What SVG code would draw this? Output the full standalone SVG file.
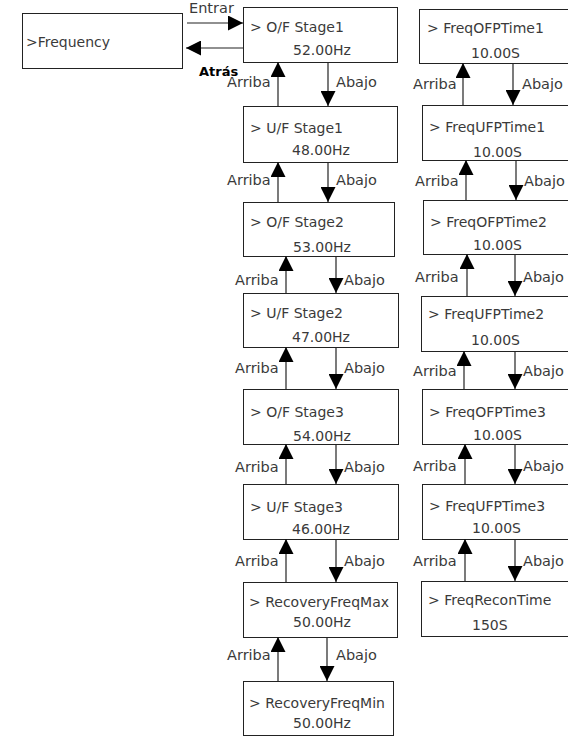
<svg xmlns="http://www.w3.org/2000/svg" width="568" height="736" viewBox="0 0 568 736">
  <defs>
    <style>
      .box { fill: #fff; stroke: #222; stroke-width: 1; }
      .ln { stroke: #222; stroke-width: 1.2; fill: none; }
      .hd { fill: #000; }
      text { font-family: "DejaVu Sans", "Noto Sans", sans-serif; font-size: 14px; fill: #3a3a3a; }
      .lbl { font-size: 14.5px; }
      .bold { font-weight: 700; font-size: 13px; fill: #000; }
    </style>
    <marker id="ah" viewBox="0 0 10 10" refX="10" refY="5" markerWidth="15" markerHeight="15" markerUnits="userSpaceOnUse" orient="auto">
      <path d="M0,0 L10,5 L0,10 Z" class="hd"/>
    </marker>
  </defs>

  <rect width="568" height="736" fill="#fff"/>

  <!-- menu entry -->
  <g id="frequency">
    <rect class="box" x="22.5" y="13.5" width="160" height="55"/>
    <text x="26" y="47">&gt;Frequency</text>
  </g>

  <!-- left column -->
  <g id="of-stage1">
    <rect class="box" x="243.5" y="7.5" width="154" height="55"/>
    <text x="250" y="32">&gt; O/F Stage1</text>
    <text x="293" y="55">52.00Hz</text>
  </g>
  <g id="uf-stage1">
    <rect class="box" x="243.5" y="106.5" width="154" height="56"/>
    <text x="250" y="133">&gt; U/F Stage1</text>
    <text x="292" y="155">48.00Hz</text>
  </g>
  <g id="of-stage2">
    <rect class="box" x="243.5" y="202.5" width="151" height="54"/>
    <text x="250" y="227">&gt; O/F Stage2</text>
    <text x="293" y="252">53.00Hz</text>
  </g>
  <g id="uf-stage2">
    <rect class="box" x="243.5" y="293.5" width="155" height="54"/>
    <text x="250" y="318">&gt; U/F Stage2</text>
    <text x="292" y="342">47.00Hz</text>
  </g>
  <g id="of-stage3">
    <rect class="box" x="243.5" y="389.5" width="155" height="55"/>
    <text x="250" y="417">&gt; O/F Stage3</text>
    <text x="293" y="441">54.00Hz</text>
  </g>
  <g id="uf-stage3">
    <rect class="box" x="243.5" y="484.5" width="155" height="55"/>
    <text x="250" y="512">&gt; U/F Stage3</text>
    <text x="292" y="534">46.00Hz</text>
  </g>
  <g id="recovery-max">
    <rect class="box" x="243.5" y="582.5" width="154" height="55"/>
    <text x="249" y="607">&gt; RecoveryFreqMax</text>
    <text x="293" y="627">50.00Hz</text>
  </g>
  <g id="recovery-min">
    <rect class="box" x="243.5" y="681.5" width="150" height="54"/>
    <text x="249" y="708">&gt; RecoveryFreqMin</text>
    <text x="293" y="728">50.00Hz</text>
  </g>

  <!-- right column -->
  <g id="ofp-time1">
    <rect class="box" x="419.5" y="9.5" width="160" height="54"/>
    <text x="427" y="33">&gt; FreqOFPTime1</text>
    <text x="471" y="58">10.00S</text>
  </g>
  <g id="ufp-time1">
    <rect class="box" x="422.5" y="105.5" width="160" height="55"/>
    <text x="429" y="132">&gt; FreqUFPTime1</text>
    <text x="473" y="157">10.00S</text>
  </g>
  <g id="ofp-time2">
    <rect class="box" x="423.5" y="200.5" width="160" height="54"/>
    <text x="430" y="227">&gt; FreqOFPTime2</text>
    <text x="473" y="250">10.00S</text>
  </g>
  <g id="ufp-time2">
    <rect class="box" x="421.5" y="296.5" width="160" height="55"/>
    <text x="428" y="319">&gt; FreqUFPTime2</text>
    <text x="471" y="345">10.00S</text>
  </g>
  <g id="ofp-time3">
    <rect class="box" x="422.5" y="389.5" width="160" height="55"/>
    <text x="429" y="417">&gt; FreqOFPTime3</text>
    <text x="473" y="440">10.00S</text>
  </g>
  <g id="ufp-time3">
    <rect class="box" x="422.5" y="484.5" width="160" height="55"/>
    <text x="429" y="511">&gt; FreqUFPTime3</text>
    <text x="472" y="533">10.00S</text>
  </g>
  <g id="recon-time">
    <rect class="box" x="421.5" y="581.5" width="160" height="55"/>
    <text x="428" y="605">&gt; FreqReconTime</text>
    <text x="472" y="630">150S</text>
  </g>

  <!-- connectors -->
  <g id="connectors">
    <!-- enter / back -->
    <line class="ln" x1="187" y1="23" x2="243" y2="23" marker-end="url(#ah)"/>
    <line class="ln" x1="243" y1="48" x2="186" y2="48" marker-end="url(#ah)"/>

    <!-- left column up / down -->
    <line class="ln" x1="278" y1="106" x2="278" y2="62" marker-end="url(#ah)"/>
    <line class="ln" x1="328" y1="62" x2="328" y2="106" marker-end="url(#ah)"/>
    <line class="ln" x1="278" y1="202" x2="278" y2="162" marker-end="url(#ah)"/>
    <line class="ln" x1="328" y1="162" x2="328" y2="202" marker-end="url(#ah)"/>
    <line class="ln" x1="286" y1="293" x2="286" y2="256" marker-end="url(#ah)"/>
    <line class="ln" x1="336" y1="256" x2="336" y2="293" marker-end="url(#ah)"/>
    <line class="ln" x1="286" y1="389" x2="286" y2="347" marker-end="url(#ah)"/>
    <line class="ln" x1="336" y1="347" x2="336" y2="389" marker-end="url(#ah)"/>
    <line class="ln" x1="286" y1="484" x2="286" y2="444" marker-end="url(#ah)"/>
    <line class="ln" x1="336" y1="444" x2="336" y2="484" marker-end="url(#ah)"/>
    <line class="ln" x1="286" y1="582" x2="286" y2="539" marker-end="url(#ah)"/>
    <line class="ln" x1="336" y1="539" x2="336" y2="582" marker-end="url(#ah)"/>
    <line class="ln" x1="278" y1="681" x2="278" y2="637" marker-end="url(#ah)"/>
    <line class="ln" x1="327" y1="637" x2="327" y2="681" marker-end="url(#ah)"/>

    <!-- right column up / down -->
    <line class="ln" x1="463" y1="105" x2="463" y2="63" marker-end="url(#ah)"/>
    <line class="ln" x1="513" y1="63" x2="513" y2="105" marker-end="url(#ah)"/>
    <line class="ln" x1="466" y1="200" x2="466" y2="160" marker-end="url(#ah)"/>
    <line class="ln" x1="516" y1="160" x2="516" y2="200" marker-end="url(#ah)"/>
    <line class="ln" x1="467" y1="296" x2="467" y2="254" marker-end="url(#ah)"/>
    <line class="ln" x1="515" y1="254" x2="515" y2="296" marker-end="url(#ah)"/>
    <line class="ln" x1="464" y1="389" x2="464" y2="351" marker-end="url(#ah)"/>
    <line class="ln" x1="515" y1="351" x2="515" y2="389" marker-end="url(#ah)"/>
    <line class="ln" x1="465" y1="484" x2="465" y2="444" marker-end="url(#ah)"/>
    <line class="ln" x1="515" y1="444" x2="515" y2="484" marker-end="url(#ah)"/>
    <line class="ln" x1="465" y1="581" x2="465" y2="539" marker-end="url(#ah)"/>
    <line class="ln" x1="515" y1="539" x2="515" y2="581" marker-end="url(#ah)"/>

    <!-- labels -->
    <text class="lbl" x="189" y="13">Entrar</text>
    <text class="bold" x="199" y="76">Atrás</text>

    <text class="lbl" x="227" y="87">Arriba</text>
    <text class="lbl" x="336" y="87">Abajo</text>
    <text class="lbl" x="227" y="185">Arriba</text>
    <text class="lbl" x="336" y="185">Abajo</text>
    <text class="lbl" x="235" y="285">Arriba</text>
    <text class="lbl" x="344" y="285">Abajo</text>
    <text class="lbl" x="235" y="373">Arriba</text>
    <text class="lbl" x="344" y="373">Abajo</text>
    <text class="lbl" x="235" y="472">Arriba</text>
    <text class="lbl" x="344" y="472">Abajo</text>
    <text class="lbl" x="235" y="566">Arriba</text>
    <text class="lbl" x="344" y="566">Abajo</text>
    <text class="lbl" x="227" y="660">Arriba</text>
    <text class="lbl" x="336" y="660">Abajo</text>

    <text class="lbl" x="413" y="89">Arriba</text>
    <text class="lbl" x="522" y="89">Abajo</text>
    <text class="lbl" x="415" y="186">Arriba</text>
    <text class="lbl" x="524" y="186">Abajo</text>
    <text class="lbl" x="415" y="282">Arriba</text>
    <text class="lbl" x="523" y="282">Abajo</text>
    <text class="lbl" x="413" y="376">Arriba</text>
    <text class="lbl" x="523" y="376">Abajo</text>
    <text class="lbl" x="413" y="471">Arriba</text>
    <text class="lbl" x="523" y="471">Abajo</text>
    <text class="lbl" x="413" y="566">Arriba</text>
    <text class="lbl" x="523" y="566">Abajo</text>
  </g>
</svg>
